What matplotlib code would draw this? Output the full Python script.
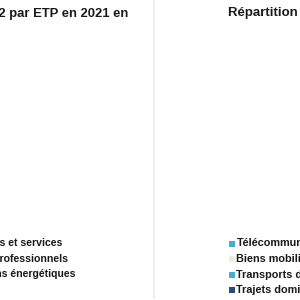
import matplotlib.pyplot as plt

# left panel (cropped): title and legend entries of the first chart
left_title = 'Émissions de CO2 par ETP en 2021 en'
left_labels = ['Achats de biens et services', 'Déplacement professionnels', 'Consommations énergétiques']
left_colors = ['#1f497d', '#8db3e2', '#c0504d']

# right panel (cropped): title and legend entries of the second chart
right_title = 'Répartition des émissions par poste'
right_labels = ['Télécommunications', 'Biens mobiliers', 'Transports de marchandises', 'Trajets domicile-travail']
right_colors = ['#4bacc6', '#eeece1', '#4bacc6', '#2c4d75']

plt.rcParams['font.family'] = ['Liberation Sans', 'DejaVu Sans']

fig = plt.figure(figsize=(3, 3), dpi=100)
ax = fig.add_axes([0, 0, 1, 1])
ax.set_xlim(0, 300)
ax.set_ylim(300, 0)
ax.axis('off')

# separator between the two charts
ax.plot([154, 154], [0, 298], color='#ececec', lw=1.2)

# titles
ax.text(128, 13, left_title, ha='right', va='center', fontsize=9.4, fontweight='bold', color='#1a1a1a')
ax.text(228, 13, right_title, ha='left', va='center', fontsize=9.5, fontweight='bold', color='#1a1a1a')

def draw_legend(x, y0, labels, colors, size):
    for i, (lab, col) in enumerate(zip(labels, colors)):
        y = y0 + i * 15.5
        ax.scatter([x - 5], [y], marker='s', s=14, color=col, linewidths=0)
        ax.text(x, y, lab, ha='left', va='center', fontsize=size, fontweight='bold', color='#1a1a1a')

draw_legend(-75, 243, left_labels, left_colors, 7.6)
draw_legend(236.5, 243.5, right_labels, right_colors, 7.8)

fig.savefig('out.png', dpi=100)
